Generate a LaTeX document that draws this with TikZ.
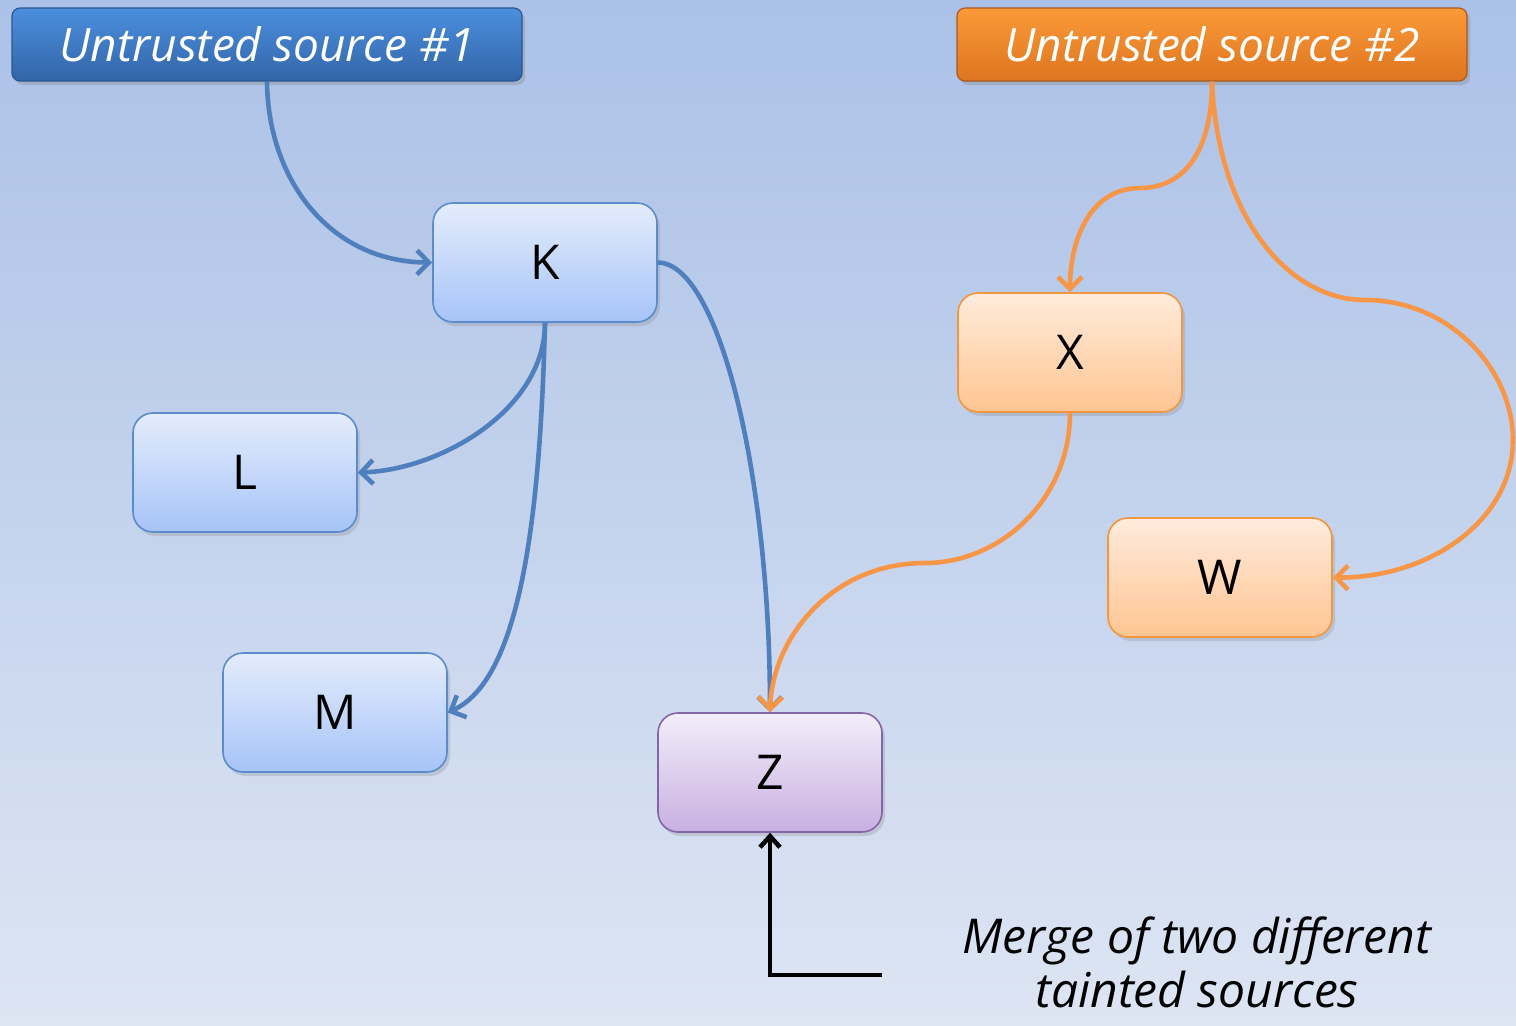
\documentclass[tikz,border=0pt]{standalone}
\usepackage{fontspec}
\setmainfont{Open Sans}
\usetikzlibrary{arrows.meta,shadows}
\definecolor{bgtop}{HTML}{ABC1E7}
\definecolor{bgbot}{HTML}{DDE5F3}
\definecolor{blueline}{HTML}{4F7FBC}
\definecolor{orangeline}{HTML}{F79646}
\definecolor{hdrbluetop}{HTML}{4C8FDE}
\definecolor{hdrbluebot}{HTML}{3265A8}
\definecolor{hdrblueedge}{HTML}{2A578F}
\definecolor{hdrorangetop}{HTML}{FB9A38}
\definecolor{hdrorangebot}{HTML}{DD7520}
\definecolor{hdrorangeedge}{HTML}{A95A1C}
\definecolor{bluetop}{HTML}{E4ECFC}
\definecolor{bluebot}{HTML}{A6C4F8}
\definecolor{blueedge}{HTML}{5B8BCB}
\definecolor{peachtop}{HTML}{FFEBDC}
\definecolor{peachbot}{HTML}{FFC592}
\definecolor{peachedge}{HTML}{F4963F}
\definecolor{lilactop}{HTML}{F3EEFA}
\definecolor{lilacbot}{HTML}{C8B0E2}
\definecolor{lilacedge}{HTML}{8466A6}
\tikzset{
  header/.style={rounded corners=4pt, minimum width=255pt, minimum height=36.5pt,
    text=white, font=\fontsize{23}{26}\selectfont\itshape,
    drop shadow={shadow xshift=1.5pt, shadow yshift=-2pt, opacity=0.3}},
  hdrblue/.style={header, top color=hdrbluetop, bottom color=hdrbluebot, draw=hdrblueedge, line width=0.6pt},
  hdrorange/.style={header, top color=hdrorangetop, bottom color=hdrorangebot, draw=hdrorangeedge, line width=0.6pt},
  varbox/.style={rounded corners=10pt, minimum width=112pt, minimum height=59.5pt,
    font=\fontsize{24}{26}\selectfont, line width=0.8pt,
    drop shadow={shadow xshift=1.5pt, shadow yshift=-2pt, opacity=0.25}},
  bluebox/.style={varbox, top color=bluetop, bottom color=bluebot, draw=blueedge},
  peachbox/.style={varbox, top color=peachtop, bottom color=peachbot, draw=peachedge},
  lilacbox/.style={varbox, top color=lilactop, bottom color=lilacbot, draw=lilacedge},
  flow/.style={line width=2.3pt, -{Straight Barb[length=6pt,width=12pt]}},
  blueflow/.style={flow, draw=blueline},
  orangeflow/.style={flow, draw=orangeline},
  pointer/.style={line width=2.3pt, draw=black, -{Straight Barb[length=5.5pt,width=10pt]}},
  note/.style={font=\fontsize{24}{27}\selectfont\itshape, align=center, text=black, inner sep=0pt}
}
\begin{document}
\begin{tikzpicture}[x=0.5pt, y=-0.5pt]
  % background
  \shade[top color=bgtop, bottom color=bgbot] (0,0) rectangle (1516,1025);
  \useasboundingbox (0,0) rectangle (1516,1025);

  % source headers
  \node[hdrblue] (src1) at (267,44.5) {Untrusted source \#1};
  \node[hdrorange] (src2) at (1212,44.5) {Untrusted source \#2};

  % variables
  \node[bluebox] (K) at (545,262.5) {K};
  \node[bluebox] (L) at (245,472.5) {L};
  \node[bluebox] (M) at (335,712.5) {M};
  \node[peachbox] (X) at (1070,352.5) {X};
  \node[peachbox] (W) at (1220,577.5) {W};
  \node[lilacbox] (Z) at (770,772.5) {Z};

  % flows from source #1
  \draw[blueflow] (src1.south) .. controls (268,180) and (330,262) .. (K.west);
  \draw[blueflow] (K.south) .. controls (545,410) and (440,470) .. (L.east);
  \draw[blueflow] (K.south) .. controls (540,520) and (520,680) .. (M.east);
  \draw[blueflow] (K.east) .. controls (720,263) and (770,480) .. (Z.north);

  % flows from source #2
  \draw[orangeflow] (src2.south) .. controls (1212,150) and (1185,188) .. (1140,188)
        .. controls (1090,188) and (1070,240) .. (X.north);
  \draw[orangeflow] (src2.south) .. controls (1218,220) and (1290,300) .. (1365,300)
        .. controls (1450,300) and (1513,370) .. (1513,440)
        .. controls (1513,520) and (1430,578) .. (W.east);
  \draw[orangeflow] (X.south) .. controls (1070,500) and (1000,563) .. (925,563)
        .. controls (830,563) and (772,640) .. (Z.north);

  % annotation
  \coordinate (tail) at (882,975);
  \draw[pointer] (tail) -- (770,975) -- (Z.south);
  \node[note] (merge) at (1197,962) {Merge of two different\\tainted sources};
\end{tikzpicture}
\end{document}
